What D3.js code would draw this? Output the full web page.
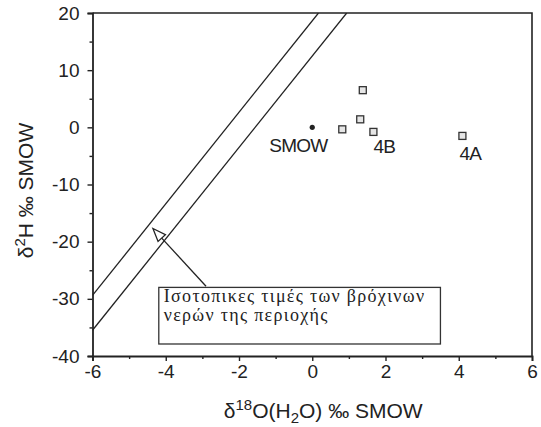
<!DOCTYPE html>
<html>
<head>
<meta charset="utf-8">
<script src="https://cdn.jsdelivr.net/npm/d3@7"></script>
<style>
  body { margin: 0; background: #fff; }
  svg { display: block; }
  .axis text { font-family: "Liberation Sans", sans-serif; font-size: 19px; fill: #222; }
  .axis path, .axis line { stroke: #222; }
</style>
</head>
<body>
<div id="chart"></div>
<script>
// data
var xTicks = [-6, -4, -2, 0, 2, 4, 6];
var xMinor = [-5, -3, -1, 1, 3, 5];
var yTicks = [20, 10, 0, -10, -20, -30, -40];
var yMinor = [15, 5, -5, -15, -25, -35];

var sampleX = [1.38, 1.31, 0.82, 1.67, 4.1];
var sampleY = [6.5, 1.4, -0.35, -0.8, -1.5];
var smow = [0, 0];

// the two meteoric water lines (end points)
var upperLine = [[-6, -29.4], [0.17, 20]];
var lowerLine = [[-6, -35.5], [0.94, 20]];

var pointLabels = [
  {text: "SMOW", x: -0.38, y: -4.3, anchor: "middle"},
  {text: "4B", x: 1.67, y: -4.5, anchor: "start"},
  {text: "4A", x: 4.02, y: -5.7, anchor: "start"}
];

var noteLines = ["Ισοτοπικες τιμές των βρόχινων", "νερών της περιοχής"];
var noteBox = {x0: -4.19, x1: 3.5, y0: -28.0, y1: -37.9};
var arrow = {x0: -2.9, y0: -27.8, x1: -4.35, y1: -17.7};

var W = 541, H = 427;
var margin = {top: 13, right: 9, bottom: 71, left: 92.5},
    width = W - margin.left - margin.right,
    height = H - margin.top - margin.bottom;

var x = d3.scaleLinear().domain([-6, 6]).range([0, width]);
var y = d3.scaleLinear().domain([-40, 20]).range([height, 0]);

var svg = d3.select("#chart").append("svg")
    .attr("width", W)
    .attr("height", H)
  .append("g")
    .attr("transform", "translate(" + margin.left + "," + margin.top + ")");

svg.append("clipPath").attr("id", "plot")
  .append("rect").attr("width", width).attr("height", height);

// frame (top and right)
svg.append("path")
    .attr("d", "M0,0H" + width + "V" + height)
    .attr("fill", "none")
    .attr("stroke", "#222")
    .attr("stroke-width", 1.6);

// axes (plain hyphen for minus, like the original)
var fmt = function(d) { return String(d); };
var xAxis = d3.axisBottom(x).tickValues(xTicks).tickSize(5).tickPadding(4).tickFormat(fmt);
var yAxis = d3.axisLeft(y).tickValues(yTicks).tickSize(5).tickPadding(8).tickFormat(fmt);

svg.append("g")
    .attr("class", "x axis")
    .attr("transform", "translate(0," + height + ")")
    .call(xAxis);
svg.append("g")
    .attr("class", "y axis")
    .call(yAxis);

svg.append("g")
    .attr("class", "axis")
    .attr("transform", "translate(0," + height + ")")
    .call(d3.axisBottom(x).tickValues(xMinor).tickSize(3).tickFormat(""))
    .select(".domain").remove();
svg.append("g")
    .attr("class", "axis")
    .call(d3.axisLeft(y).tickValues(yMinor).tickSize(3).tickFormat(""))
    .select(".domain").remove();

svg.selectAll(".axis .domain").attr("stroke-width", 1.8);
svg.selectAll(".axis .tick line").attr("stroke-width", 1.4);

// water lines
var line = d3.line().x(function(d) { return x(d[0]); }).y(function(d) { return y(d[1]); });
[upperLine, lowerLine].forEach(function(l) {
  svg.append("path")
      .attr("d", line(l))
      .attr("clip-path", "url(#plot)")
      .attr("fill", "none")
      .attr("stroke", "#222")
      .attr("stroke-width", 1.3);
});

// samples
var sq = 7;
svg.selectAll(".sample")
    .data(sampleX)
  .enter().append("rect")
    .attr("class", "sample")
    .attr("x", function(d) { return x(d) - sq / 2; })
    .attr("y", function(d, i) { return y(sampleY[i]) - sq / 2; })
    .attr("width", sq)
    .attr("height", sq)
    .attr("fill", "#e6e6e6")
    .attr("stroke", "#333")
    .attr("stroke-width", 1.3);

svg.append("circle")
    .attr("cx", x(smow[0]))
    .attr("cy", y(smow[1]))
    .attr("r", 2.6)
    .attr("fill", "#222");

svg.selectAll(".plabel")
    .data(pointLabels)
  .enter().append("text")
    .attr("class", "plabel")
    .attr("x", function(d) { return x(d.x); })
    .attr("y", function(d) { return y(d.y); })
    .attr("text-anchor", function(d) { return d.anchor; })
    .style("font-family", "Liberation Sans, sans-serif")
    .style("font-size", "19px")
    .style("letter-spacing", "-0.8px")
    .attr("fill", "#222")
    .text(function(d) { return d.text; });

// note box and arrow
svg.append("rect")
    .attr("x", x(noteBox.x0))
    .attr("y", y(noteBox.y0))
    .attr("width", x(noteBox.x1) - x(noteBox.x0))
    .attr("height", y(noteBox.y1) - y(noteBox.y0))
    .attr("fill", "#fff")
    .attr("stroke", "#333")
    .attr("stroke-width", 1.3);

var note = svg.append("text")
    .style("font-family", "Liberation Serif, serif")
    .style("font-size", "18px")
    .style("letter-spacing", "1.3px")
    .attr("fill", "#222");
noteLines.forEach(function(t, i) {
  note.append("tspan")
      .attr("x", x(noteBox.x0) + 5)
      .attr("y", y(noteBox.y0) + 15 + i * 19)
      .text(t);
});

var ax0 = x(arrow.x0), ay0 = y(arrow.y0), ax1 = x(arrow.x1), ay1 = y(arrow.y1);
var ang = Math.atan2(ay1 - ay0, ax1 - ax0);
var headLen = 13, headW = 5;
var bx = ax1 - headLen * Math.cos(ang), by = ay1 - headLen * Math.sin(ang);
svg.append("line")
    .attr("x1", ax0).attr("y1", ay0)
    .attr("x2", bx).attr("y2", by)
    .attr("stroke", "#222")
    .attr("stroke-width", 1.3);
svg.append("path")
    .attr("d", "M" + ax1 + "," + ay1 +
      "L" + (bx + headW * Math.sin(ang)) + "," + (by - headW * Math.cos(ang)) +
      "L" + (bx - headW * Math.sin(ang)) + "," + (by + headW * Math.cos(ang)) + "Z")
    .attr("fill", "#fff")
    .attr("stroke", "#222")
    .attr("stroke-width", 1.3);

// axis titles
var xt = svg.append("text")
    .attr("x", x(0.3))
    .attr("y", height + 62)
    .attr("text-anchor", "middle")
    .style("font-family", "Liberation Sans, sans-serif")
    .style("font-size", "21px")
    .attr("fill", "#222");
xt.append("tspan").text("δ");
xt.append("tspan").attr("dy", -8).style("font-size", "15px").text("18");
xt.append("tspan").attr("dy", 8).text("O(H");
xt.append("tspan").attr("dy", 5).style("font-size", "15px").text("2");
xt.append("tspan").attr("dy", -5).text("O) ‰ SMOW");

var yt = svg.append("text")
    .attr("transform", "translate(" + (-60) + "," + (y(-10) + 6) + ") rotate(-90)")
    .attr("text-anchor", "middle")
    .style("font-family", "Liberation Sans, sans-serif")
    .style("font-size", "21px")
    .attr("fill", "#222");
yt.append("tspan").text("δ");
yt.append("tspan").attr("dy", -8).style("font-size", "15px").text("2");
yt.append("tspan").attr("dy", 8).text("H ‰ SMOW");
</script>
</body>
</html>
